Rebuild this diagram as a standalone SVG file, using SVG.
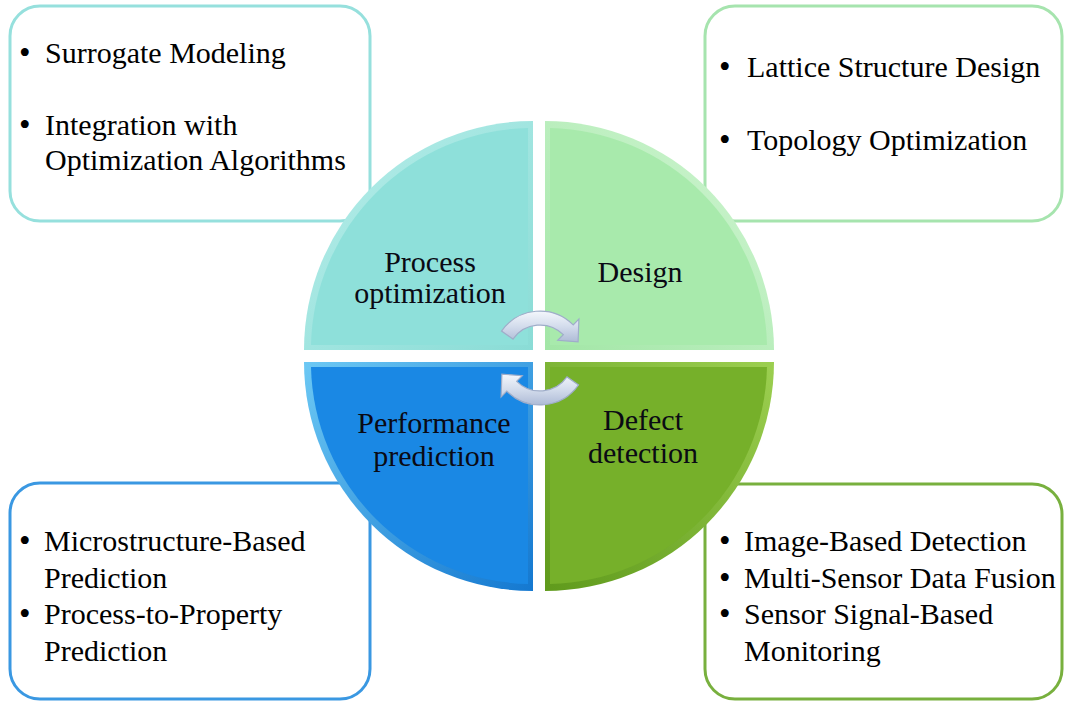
<svg xmlns="http://www.w3.org/2000/svg" width="1080" height="707" viewBox="0 0 1080 707">
<defs>
<style>
.box{fill:#ffffff;stroke-width:3}
.t{font-family:"Liberation Serif","Times New Roman",serif;font-size:30px;fill:#000}
.b{font-family:"Liberation Serif","Times New Roman",serif;font-size:33px;fill:#000}
.c{font-family:"Liberation Serif","Times New Roman",serif;font-size:30px;fill:#0a0a14;text-anchor:middle}
.arr{fill:url(#ag);stroke:#9fadc9;stroke-width:1.2}
</style>
<linearGradient id="ag" x1="0" y1="0" x2="0" y2="1">
<stop offset="0" stop-color="#f4f7fc"/>
<stop offset="0.5" stop-color="#d3dcec"/>
<stop offset="1" stop-color="#aebbd6"/>
</linearGradient>
<linearGradient id="gTL" x1="0" y1="0" x2="1" y2="1">
<stop offset="0" stop-color="#b8eeea"/><stop offset="1" stop-color="#8adcd6"/>
</linearGradient>
<linearGradient id="gTR" x1="1" y1="0" x2="0" y2="1">
<stop offset="0" stop-color="#d2f6d4"/><stop offset="1" stop-color="#a2e6a6"/>
</linearGradient>
<linearGradient id="gBL" x1="0" y1="0" x2="1" y2="1">
<stop offset="0" stop-color="#6cc8f4"/><stop offset="1" stop-color="#1478d0"/>
</linearGradient>
<linearGradient id="gBR" x1="1" y1="0" x2="0" y2="1">
<stop offset="0" stop-color="#9ccf50"/><stop offset="1" stop-color="#5f9a1c"/>
</linearGradient>
</defs>
<rect width="1080" height="707" fill="#ffffff"/>

<g id="box-process">
<rect class="box" x="10" y="6" width="360" height="215" rx="30" stroke="#96e0dd"/>
<text class="b" x="19" y="64">•</text><text class="t" x="45" y="63">Surrogate Modeling</text>
<text class="b" x="19" y="136">•</text><text class="t" x="45" y="135">Integration with</text>
<text class="t" x="45" y="170">Optimization Algorithms</text>
</g>
<g id="box-design">
<rect class="box" x="705" y="6" width="357" height="215" rx="30" stroke="#a6e4ae"/>
<text class="b" x="719" y="78">•</text><text class="t" x="747" y="77">Lattice Structure Design</text>
<text class="b" x="719" y="151">•</text><text class="t" x="747" y="150">Topology Optimization</text>
</g>
<g id="box-performance">
<rect class="box" x="10" y="483" width="360" height="216" rx="30" stroke="#3a98e2"/>
<text class="b" x="19" y="552">•</text><text class="t" x="44" y="551">Microstructure-Based</text>
<text class="t" x="44" y="588">Prediction</text>
<text class="b" x="19" y="625">•</text><text class="t" x="44" y="624">Process-to-Property</text>
<text class="t" x="44" y="661">Prediction</text>
</g>
<g id="box-defect">
<rect class="box" x="705" y="484" width="357" height="215" rx="30" stroke="#78b03e"/>
<text class="b" x="719" y="552">•</text><text class="t" x="744" y="551">Image-Based Detection</text>
<text class="b" x="719" y="589">•</text><text class="t" x="744" y="588">Multi-Sensor Data Fusion</text>
<text class="b" x="719" y="625">•</text><text class="t" x="744" y="624">Sensor Signal-Based</text>
<text class="t" x="744" y="661">Monitoring</text>
</g>

<g id="q-process">
<path d="M533,350 L304,350 A229,229 0 0 1 533,121 Z" fill="url(#gTL)"/>
<path d="M528,345 L311,345 A222,222 0 0 1 528,128 Z" fill="#8ee0da"/>
<text class="c" x="430" y="272">Process</text>
<text class="c" x="430" y="303">optimization</text>
</g>
<g id="q-design">
<path d="M545,350 L545,121 A229,229 0 0 1 774,350 Z" fill="url(#gTR)"/>
<path d="M550,345 L550,128 A222,222 0 0 1 767,345 Z" fill="#a8eaac"/>
<text class="c" x="640" y="282">Design</text>
</g>
<g id="q-defect">
<path d="M545,362 L774,362 A229,229 0 0 1 545,591 Z" fill="url(#gBR)"/>
<path d="M550,367 L767,367 A222,222 0 0 1 550,584 Z" fill="#76b02a"/>
<text class="c" x="643" y="430">Defect</text>
<text class="c" x="643" y="463">detection</text>
</g>
<g id="q-performance">
<path d="M533,362 L533,591 A229,229 0 0 1 304,362 Z" fill="url(#gBL)"/>
<path d="M528,367 L528,584 A222,222 0 0 1 311,367 Z" fill="#1a88e4"/>
<text class="c" x="434" y="433">Performance</text>
<text class="c" x="434" y="466">prediction</text>
</g>

<g id="connectors">
<path class="arr" d="M501.5,331.1 A47,47 0 0 1 573.2,324.8 L578.9,319.1 L578.1,341.9 L557.7,340.3 L563.3,334.7 A33,33 0 0 0 513,339.1 Z"/>
<path class="arr" d="M578.5,384.9 A47,47 0 0 1 506.8,391.2 L501.1,396.9 L501.9,374.1 L522.3,375.7 L516.7,381.3 A33,33 0 0 0 567,376.9 Z"/>
</g>
</svg>
